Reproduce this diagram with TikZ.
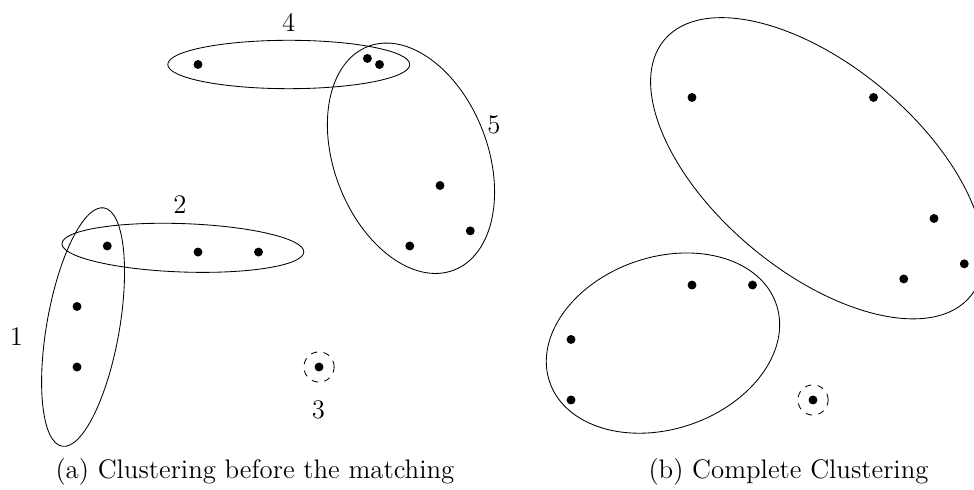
\documentclass[tikz,border=0pt]{standalone}
\usetikzlibrary{positioning}

\begin{document}
\begin{tikzpicture}[font=\fontsize{12.6}{15}\selectfont,
    vertex/.style={circle, fill, inner sep=0pt, minimum size=4.2pt},
    lonely/.style={dashed}]
    \useasboundingbox (-1.273,-2.033) rectangle (14.826,6.066);

    % (a) before the matching
    \node[vertex] (a1) at (0,0) {};
    \node[vertex] (a2) at (0,1) {};
    \node[vertex] (a3) at (0.5,2) {};
    \node[vertex] (a4) at (2,1.9) {};
    \node[vertex] (a5) at (3,1.9) {};
    \node[vertex] (a6) at (4,0) {};
    \node[vertex] (a7) at (2,5) {};
    \node[vertex] (a8) at (4.8,5.1) {};
    \node[vertex] (a9) at (5,5) {};
    \node[vertex] (a10) at (6,3) {};
    \node[vertex] (a11) at (6.5,2.25) {};
    \node[vertex] (a12) at (5.5,2) {};
    \draw[shift={(0.1,0.66)}, rotate=80] (0,0) ellipse (2 and 0.6);
    \draw[shift={(1.75,1.97)}, rotate=-2] (0,0) ellipse (2 and 0.4);
    \draw (3.5,5) ellipse (2 and 0.4);
    \draw[shift={(5.52,3.45)}, rotate=111] (0,0) ellipse (1.98 and 1.27);
    \draw[lonely] (a6) circle (0.25);
    \node (l1) at (-1.0,0.51) {1};
    \node (l2) at (1.70,2.69) {2};
    \node (l3) at (3.99,-0.71) {3};
    \node (l4) at (3.50,5.69) {4};
    \node (l5) at (6.89,4.0) {5};
    \node[anchor=base] (capa) at (2.94,-1.835) {(a) Clustering before the matching};

    % (b) complete clustering
    \begin{scope}[shift={(8.165,-0.545)}]
        \node[vertex] (b1) at (0,0) {};
        \node[vertex] (b2) at (0,1) {};
        \node[vertex] (b3) at (2,1.9) {};
        \node[vertex] (b4) at (3,1.9) {};
        \node[vertex] (b5) at (4,0) {};
        \node[vertex] (b6) at (2,5) {};
        \node[vertex] (b7) at (5,5) {};
        \node[vertex] (b8) at (6,3) {};
        \node[vertex] (b9) at (6.5,2.25) {};
        \node[vertex] (b10) at (5.5,2) {};
        \draw[shift={(1.52,0.94)}, rotate=19] (0,0) ellipse (1.98 and 1.42);
        \draw[shift={(4.07,3.83)}, rotate=-40] (0,0) ellipse (3.3 and 1.7);
        \draw[lonely] (b5) circle (0.25);
    \end{scope}
    \node[anchor=base] (capb) at (11.76,-1.835) {(b) Complete Clustering};
\end{tikzpicture}
\end{document}
